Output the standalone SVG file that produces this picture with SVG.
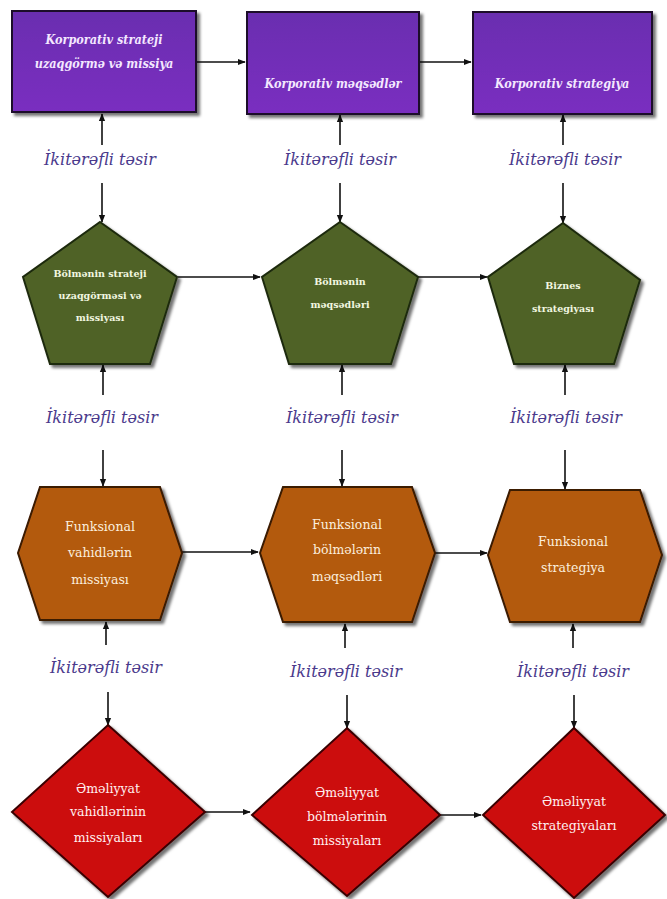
<svg xmlns="http://www.w3.org/2000/svg" width="667" height="899" viewBox="0 0 667 899">
<defs>
<marker id="ah" viewBox="0 0 10 10" refX="9" refY="5" markerWidth="5" markerHeight="5" orient="auto-start-reverse" markerUnits="strokeWidth">
<path d="M0,1 L10,5 L0,9 z" fill="#111"/>
</marker>
<filter id="sh" x="-10%" y="-10%" width="125%" height="125%">
<feDropShadow dx="3" dy="3" stdDeviation="1.5" flood-color="#000" flood-opacity="0.55"/>
</filter>
<linearGradient id="pg" x1="0" y1="0" x2="0" y2="1">
<stop offset="0" stop-color="#6a2fb0"/><stop offset="1" stop-color="#7a2ec0"/>
</linearGradient>
</defs>
<style>
.box{fill:url(#pg);stroke:#1c0c2c;stroke-width:2;filter:url(#sh)}
.pent{fill:#4f6228;stroke:#1e2a0c;stroke-width:2;filter:url(#sh)}
.hex{fill:#b35a10;stroke:#3a1a04;stroke-width:2;filter:url(#sh)}
.dia{fill:#cc0a0f;stroke:#3a0505;stroke-width:2;filter:url(#sh)}
.con{stroke:#111;stroke-width:1.6;fill:none}
text{font-family:'DejaVu Serif','Liberation Serif',serif;text-anchor:middle}
.t1{font-family:'DejaVu Serif Condensed','DejaVu Serif',serif;font-style:italic;font-weight:bold;font-size:12.5px;fill:#f4e8ff}
.t2{font-weight:bold;font-size:9.5px;fill:#f2f7e0}
.t3{font-size:12.5px;fill:#fbeedd}
.t4{font-size:12.5px;fill:#fff0f0}
.lab{font-style:italic;font-size:16px;fill:#4a3a8c}
</style>
<g id="connectors">
<line class="con" x1="196" y1="62" x2="245" y2="62" marker-end="url(#ah)"/>
<line class="con" x1="419" y1="62" x2="471" y2="62" marker-end="url(#ah)"/>
<line class="con" x1="178" y1="277" x2="260" y2="277" marker-end="url(#ah)"/>
<line class="con" x1="418" y1="277" x2="487" y2="277" marker-end="url(#ah)"/>
<line class="con" x1="182" y1="552" x2="258" y2="552" marker-end="url(#ah)"/>
<line class="con" x1="435" y1="553" x2="487" y2="553" marker-end="url(#ah)"/>
<line class="con" x1="205" y1="812" x2="250" y2="812" marker-end="url(#ah)"/>
<line class="con" x1="440" y1="815" x2="481" y2="815" marker-end="url(#ah)"/>
<line class="con" x1="102" y1="145" x2="102" y2="114" marker-end="url(#ah)"/>
<line class="con" x1="102" y1="183" x2="102" y2="222" marker-end="url(#ah)"/>
<line class="con" x1="340" y1="145" x2="340" y2="115" marker-end="url(#ah)"/>
<line class="con" x1="340" y1="183" x2="340" y2="222" marker-end="url(#ah)"/>
<line class="con" x1="563" y1="145" x2="563" y2="115" marker-end="url(#ah)"/>
<line class="con" x1="563" y1="183" x2="563" y2="223" marker-end="url(#ah)"/>
<line class="con" x1="103" y1="395" x2="103" y2="365" marker-end="url(#ah)"/>
<line class="con" x1="103" y1="450" x2="103" y2="486" marker-end="url(#ah)"/>
<line class="con" x1="342" y1="395" x2="342" y2="365" marker-end="url(#ah)"/>
<line class="con" x1="342" y1="450" x2="342" y2="486" marker-end="url(#ah)"/>
<line class="con" x1="565" y1="395" x2="565" y2="365" marker-end="url(#ah)"/>
<line class="con" x1="565" y1="450" x2="565" y2="489" marker-end="url(#ah)"/>
<line class="con" x1="106" y1="645" x2="106" y2="622" marker-end="url(#ah)"/>
<line class="con" x1="108" y1="692" x2="108" y2="725" marker-end="url(#ah)"/>
<line class="con" x1="345" y1="648" x2="345" y2="624" marker-end="url(#ah)"/>
<line class="con" x1="347" y1="695" x2="347" y2="728" marker-end="url(#ah)"/>
<line class="con" x1="573" y1="648" x2="573" y2="624" marker-end="url(#ah)"/>
<line class="con" x1="574" y1="695" x2="574" y2="728" marker-end="url(#ah)"/>
</g>
<g id="labels">
<text class="lab" x="100" y="165">İkitərəfli təsir</text>
<text class="lab" x="340" y="165">İkitərəfli təsir</text>
<text class="lab" x="565" y="165">İkitərəfli təsir</text>
<text class="lab" x="102" y="423">İkitərəfli təsir</text>
<text class="lab" x="342" y="423">İkitərəfli təsir</text>
<text class="lab" x="566" y="423">İkitərəfli təsir</text>
<text class="lab" x="106" y="673">İkitərəfli təsir</text>
<text class="lab" x="346" y="677">İkitərəfli təsir</text>
<text class="lab" x="573" y="677">İkitərəfli təsir</text>
</g>
<g id="n1">
<rect class="box" x="12" y="11" width="184" height="101"/>
<text class="t1" x="104" y="44">Korporativ strateji</text>
<text class="t1" x="104" y="68">uzaqgörmə və missiya</text>
</g>
<g id="n2">
<rect class="box" x="247" y="12" width="172" height="102"/>
<text class="t1" x="333" y="88">Korporativ məqsədlər</text>
</g>
<g id="n3">
<rect class="box" x="473" y="12" width="179" height="102"/>
<text class="t1" x="562" y="88">Korporativ strategiya</text>
</g>
<g id="n4">
<polygon class="pent" points="100,222 177,277 150,364 50,364 23,277"/>
<text class="t2" x="100" y="277">Bölmənin strateji</text>
<text class="t2" x="100" y="299">uzaqgörməsi və</text>
<text class="t2" x="100" y="321">missiyası</text>
</g>
<g id="n5">
<polygon class="pent" points="340,222 418,277 391,364 289,364 262,277"/>
<text class="t2" x="340" y="285">Bölmənin</text>
<text class="t2" x="340" y="308">məqsədləri</text>
</g>
<g id="n6">
<polygon class="pent" points="563,223 640,280 614,364 514,364 488,277"/>
<text class="t2" x="563" y="289">Biznes</text>
<text class="t2" x="563" y="312">strategiyası</text>
</g>
<g id="n7">
<polygon class="hex" points="40,487 160,487 182,553 160,620 40,620 18,553"/>
<text class="t3" x="100" y="531">Funksional</text>
<text class="t3" x="100" y="557">vahidlərin</text>
<text class="t3" x="100" y="584">missiyası</text>
</g>
<g id="n8">
<polygon class="hex" points="283,487 412,487 435,553 412,622 283,622 260,553"/>
<text class="t3" x="347" y="529">Funksional</text>
<text class="t3" x="347" y="554">bölmələrin</text>
<text class="t3" x="347" y="581">məqsədləri</text>
</g>
<g id="n9">
<polygon class="hex" points="510,490 640,490 662,555 640,622 510,622 488,555"/>
<text class="t3" x="573" y="546">Funksional</text>
<text class="t3" x="573" y="572">strategiya</text>
</g>
<g id="n10">
<polygon class="dia" points="108,725 205,812 108,897 12,812"/>
<text class="t4" x="108" y="793">Əməliyyat</text>
<text class="t4" x="108" y="816">vahidlərinin</text>
<text class="t4" x="108" y="842">missiyaları</text>
</g>
<g id="n11">
<polygon class="dia" points="347,728 440,815 347,896 252,815"/>
<text class="t4" x="347" y="797">Əməliyyat</text>
<text class="t4" x="347" y="821">bölmələrinin</text>
<text class="t4" x="347" y="845">missiyaları</text>
</g>
<g id="n12">
<polygon class="dia" points="574,728 665,815 574,898 483,815"/>
<text class="t4" x="574" y="806">Əməliyyat</text>
<text class="t4" x="574" y="830">strategiyaları</text>
</g>
</svg>
